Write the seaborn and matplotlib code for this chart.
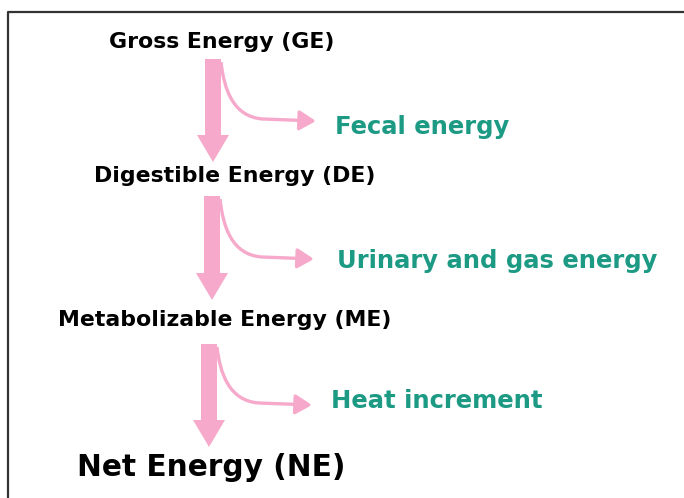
import matplotlib.pyplot as plt
import seaborn as sns
from matplotlib.patches import FancyArrowPatch
from matplotlib.path import Path

sns.set_theme(style="white")
plt.rcParams['font.family'] = ['DejaVu Sans']

# Datos del diagrama
etapas = ["Gross Energy (GE)", "Digestible Energy (DE)",
          "Metabolizable Energy (ME)", "Net Energy (NE)"]
perdidas = ["Fecal energy", "Urinary and gas energy", "Heat increment"]

# Posiciones (pixeles)
etapa_x = [222, 235, 225, 211]
etapa_y = [42, 176, 320, 467]
etapa_size = [15.8, 15.8, 15.8, 21.3]
flecha_x = [213, 212, 209]
flecha_y0 = [59, 196, 344]
flecha_y1 = [162, 300, 447]
curva_x0 = [221, 220, 217]
curva_y0 = [62, 199, 347]
curva_x1 = [316, 314, 312]
curva_y1 = [121, 259, 405]
perdida_x = [335, 337, 331]
perdida_y = [127, 261, 401]

rosa = '#f6a9ca'
verde = '#1c9a84'

fig = plt.figure(figsize=(6.84, 4.98), dpi=100)
ax = fig.add_axes([0, 0, 1, 1])
ax.set_xlim(0, 684)
ax.set_ylim(498, 0)
ax.axis('off')

# Marco
ax.plot([8, 8, 684], [498, 12, 12], color='#333333', lw=1.6, solid_capstyle='butt')

for i, txt in enumerate(etapas):
    ax.text(etapa_x[i], etapa_y[i], txt, ha='center', va='center',
            fontsize=etapa_size[i], fontweight='bold', color='black')

for i, txt in enumerate(perdidas):
    ax.arrow(flecha_x[i], flecha_y0[i], 0, flecha_y1[i] - flecha_y0[i],
             width=16, head_width=32, head_length=27,
             length_includes_head=True, color=rosa, lw=0)
    x0, y0, x1, y1 = curva_x0[i], curva_y0[i], curva_x1[i], curva_y1[i]
    camino = Path([(x0, y0), (x0 + 3, y1 - 32), (x0 + 12, y1 - 4), (x0 + 42, y1 - 2),
                   (x1, y1)],
                  [Path.MOVETO, Path.CURVE4, Path.CURVE4, Path.CURVE4, Path.LINETO])
    ax.add_patch(FancyArrowPatch(path=camino,
                                 arrowstyle="-|>,head_length=1.0,head_width=0.6",
                                 mutation_scale=10, color=rosa, lw=2.4,
                                 capstyle='butt', shrinkA=0, shrinkB=0))
    ax.text(perdida_x[i], perdida_y[i], txt, ha='left', va='center',
            fontsize=17.5, fontweight='bold', color=verde)

fig.savefig('out.png', dpi=100)
